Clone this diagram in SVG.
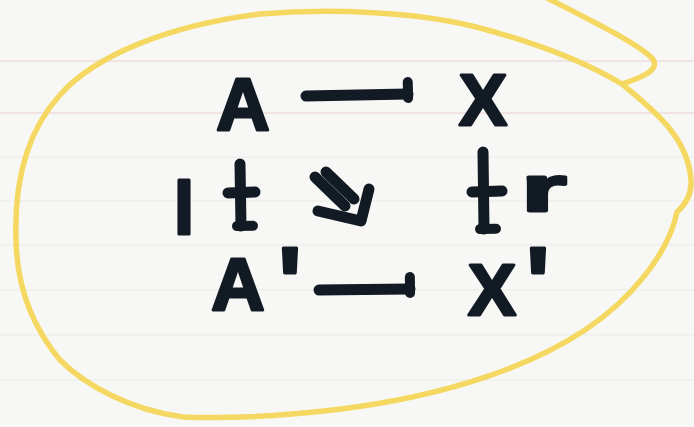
<svg xmlns="http://www.w3.org/2000/svg" width="694" height="427" viewBox="0 0 694 427">
<style>
.ink{font-family:"Liberation Sans","Arial",sans-serif;font-weight:bold;fill:#121a24;stroke:#121a24;stroke-width:3;stroke-linejoin:round;text-anchor:middle}
.stroke{fill:none;stroke:#121a24;stroke-width:11;stroke-linecap:round;stroke-linejoin:round}
.rule{stroke:#e9ebe7;stroke-width:1}
.pink{stroke:#f1dcdc;stroke-width:1.5}
.loop{fill:none;stroke:#f5d862;stroke-width:5.5;stroke-linecap:round;stroke-linejoin:round}
</style>
<defs>
<marker id="tick" markerUnits="userSpaceOnUse" orient="auto" overflow="visible" markerWidth="1" markerHeight="1" refX="0" refY="0">
<path d="M0,4 L0,-12" fill="none" stroke="#121a24" stroke-width="10" stroke-linecap="round"/>
</marker>
</defs>
<rect width="694" height="427" fill="#f7f8f5"/>
<g id="paper">
<line class="pink" x1="0" y1="61" x2="694" y2="61"/>
<line class="pink" x1="0" y1="113" x2="694" y2="113"/>
<line class="rule" x1="0" y1="157" x2="694" y2="157"/>
<line class="rule" x1="0" y1="201" x2="694" y2="201"/>
<line class="rule" x1="0" y1="245" x2="694" y2="245"/>
<line class="rule" x1="0" y1="290" x2="694" y2="290"/>
<line class="rule" x1="0" y1="335" x2="694" y2="335"/>
<line class="rule" x1="0" y1="380" x2="694" y2="380"/>
</g>
<g id="outline">
<path class="loop" d="M545,-3 C590,20 635,42 652,58 C662,70 640,78 622,84 C650,108 688,135 691,180 C692,197 684,206 677,212 C668,255 630,300 585,330 C540,360 460,395 333,410 C280,416 230,419 183,417 C130,410 85,385 60,360 C35,330 17,290 16,240 C14,180 28,130 60,95 C95,55 170,25 260,14 C330,8 420,12 480,28 C540,44 585,62 622,84"/>
</g>
<g id="connectors">
<path class="stroke" d="M306,96 L408,94" marker-end="url(#tick)"/>
<path class="stroke" d="M319,290 L410,289" marker-end="url(#tick)"/>
<path class="stroke" d="M240,164 L241,226" marker-end="url(#tick)"/>
<path class="stroke" d="M228,193 L255,192"/>
<path class="stroke" d="M483,152 L484,229" marker-end="url(#tick)"/>
<path class="stroke" d="M472,192 L502,191"/>
<g id="twocell">
<path class="stroke" d="M315,177 L345,206"/>
<path class="stroke" d="M326,172 L354,199"/>
<path class="stroke" d="M318,211 L361,221 L369,189"/>
</g>
</g>
<g id="labels">
<text id="label-l" class="ink" x="184" y="234" font-size="74">l</text>
<text id="label-r" class="ink" transform="translate(544 211) scale(1.8 1)" x="0" y="0" font-size="64">r</text>
</g>
<g id="node-A"><text class="ink" x="243" y="130" font-size="74">A</text></g>
<g id="node-X"><text class="ink" x="483" y="125" font-size="72">X</text></g>
<g id="node-A-prime"><text class="ink" x="238" y="310" font-size="74">A<tspan x="290" y="317" font-size="100">'</tspan></text></g>
<g id="node-X-prime"><text class="ink" x="492" y="315" font-size="72">X<tspan x="538" y="317" font-size="100">'</tspan></text></g>
</svg>
